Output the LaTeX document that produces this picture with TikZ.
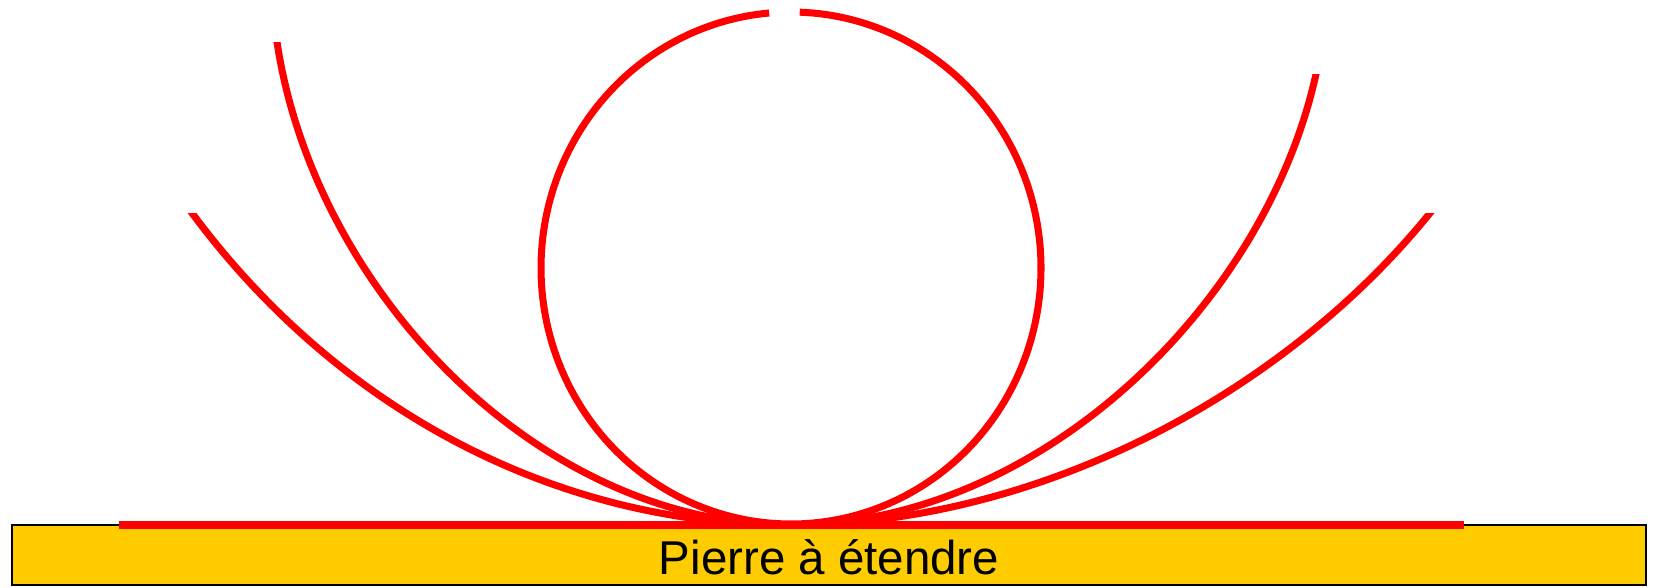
\documentclass[tikz,border=0pt]{standalone}
\usepackage{fontspec}
\setmainfont{Liberation Sans}
\definecolor{stonefill}{RGB}{255,204,0}
\begin{document}
\begin{tikzpicture}[x=0.01cm,y=-0.01cm,
  strip/.style={draw=red, line width=2pt},
  stonebox/.style={draw=black, line width=0.5pt, fill=stonefill}]
\useasboundingbox (0,0) rectangle (1655,587);
\fill[white] (0,0) rectangle (1655,587);
% stone
\path[stonebox] (12,525) rectangle (1646,585);
\node[anchor=base, font=\fontsize{13.5}{16}\selectfont] (label) at (829,574) {Pierre à étendre};
% contact point and ends
\coordinate (c) at (790,525);
\coordinate (tl) at (277,42);
\coordinate (tr) at (1316,74);
\coordinate (wl) at (192,213);
\coordinate (wr) at (1430,213);
% tall curve
\begin{scope}
\clip (0,42) rectangle (1655,600);
\draw[strip] (c) .. controls (540,525) and (314.5,292) .. (tl) -- ++(-1.5,-10);
\end{scope}
\begin{scope}
\clip (0,74) rectangle (1655,600);
\draw[strip] (c) .. controls (1040,525) and (1265.4,304) .. (tr) -- ++(2.2,-10);
\end{scope}
% wide curve
\begin{scope}
\clip (0,213) rectangle (1655,600);
\draw[strip] (c) .. controls (560,525) and (341,413.8) .. (wl) -- ++(-6,-8);
\draw[strip] (c) .. controls (1040,525) and (1285,392.4) .. (wr) -- ++(6.3,-7.8);
\end{scope}
% loop
\draw[strip] plot[domain=272:625, samples=240] ({791+250*cos(\x)},{268+256*sin(\x)});
% base line
\coordinate (bl) at (119,525);
\coordinate (br) at (1464,525);
\draw[red, line width=2.3pt] (bl) -- (br);
\end{tikzpicture}
\end{document}
